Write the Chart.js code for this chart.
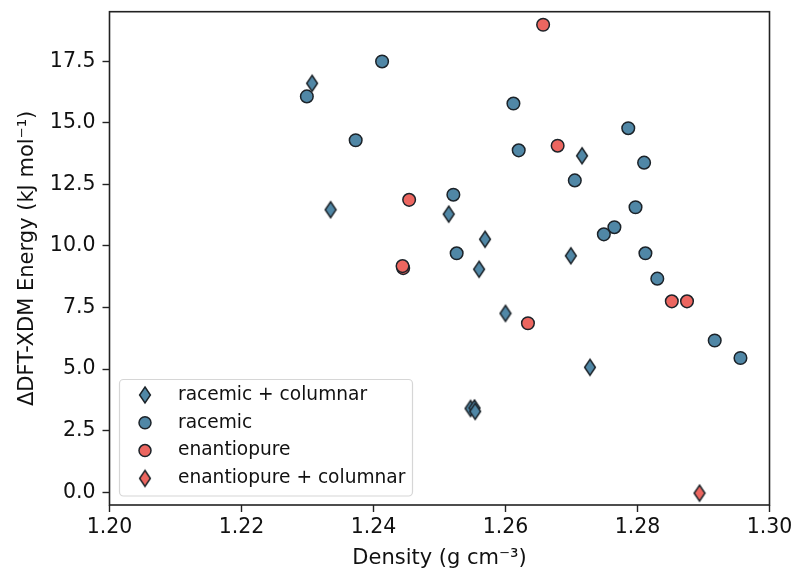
<!DOCTYPE html>
<html><head><meta charset="utf-8">
<script src="https://cdn.jsdelivr.net/npm/chart.js@4"></script>
<style>html,body{margin:0;padding:0;background:#fff}#wrap{width:795px;height:572px}</style>
</head><body><div id="wrap"><canvas id="c" width="795" height="572"></canvas></div>
<script>
const seriesNames = ["racemic + columnar", "racemic", "enantiopure", "enantiopure + columnar"];
const racColX = [1.2307, 1.2335, 1.2514, 1.2716, 1.2569, 1.2699, 1.2560, 1.2600, 1.2728, 1.2547, 1.2553, 1.2554];
const racColY = [16.6, 11.47, 11.29, 13.66, 10.27, 9.60, 9.05, 7.26, 5.07, 3.40, 3.42, 3.28];
const racX = [1.2299, 1.2413, 1.2373, 1.2612, 1.2786, 1.2620, 1.2810, 1.2705, 1.2521, 1.2797, 1.2765, 1.2749, 1.2526, 1.2812, 1.2830, 1.2917, 1.2956];
const racY = [16.07, 17.49, 14.29, 15.78, 14.78, 13.88, 13.38, 12.66, 12.08, 11.57, 10.76, 10.47, 9.70, 9.70, 8.67, 6.16, 5.45];
const enX = [1.2454, 1.2657, 1.2679, 1.2445, 1.2444, 1.2634, 1.2852, 1.2875];
const enY = [11.87, 18.98, 14.07, 9.10, 9.18, 6.86, 7.75, 7.75];
const enColX = [1.2894];
const enColY = [-0.04];
const xTicks = [1.20, 1.22, 1.24, 1.26, 1.28, 1.30];
const yTicks = [0.0, 2.5, 5.0, 7.5, 10.0, 12.5, 15.0, 17.5];

const BLUE = '#5087a6', RED = '#ec6660', EDGE = '#1c2329';
function diamond(fill){
  const c = document.createElement('canvas'); c.width = 14; c.height = 20;
  const g = c.getContext('2d');
  g.beginPath(); g.moveTo(7,2); g.lineTo(12.4,10); g.lineTo(7,18); g.lineTo(1.6,10); g.closePath();
  g.fillStyle = fill; g.fill(); g.lineWidth = 1.5; g.strokeStyle = EDGE; g.stroke();
  return c;
}
const dBlue = diamond(BLUE), dRed = diamond(RED);
const pts = (xs, ys) => xs.map((x,i)=>({x:x, y:ys[i]}));
const FONT = "'DejaVu Sans', sans-serif";

const styles = [
  {ps: dBlue, fill: BLUE},
  {ps: 'circle', fill: BLUE},
  {ps: 'circle', fill: RED},
  {ps: dRed, fill: RED}
];
const datasets = [pts(racColX, racColY), pts(racX, racY), pts(enX, enY), pts(enColX, enColY)].map((d,i)=>({
  label: seriesNames[i], data: d, pointStyle: styles[i].ps, backgroundColor: styles[i].fill,
  borderColor: EDGE, borderWidth: 1.5, pointRadius: 6.3, pointHoverRadius: 6.3, order: 3 - i
}));

const frame = {
  id: 'frame',
  afterDraw(chart){
    const {ctx, chartArea: a} = chart;
    ctx.save(); ctx.strokeStyle = '#222'; ctx.lineWidth = 1.6;
    ctx.strokeRect(a.left, a.top, a.right - a.left, a.bottom - a.top);
    // legend
    const lx = 119.5, ly = 379.5, lw = 293, lh = 116.5;
    ctx.fillStyle = 'rgba(255,255,255,0.8)'; ctx.strokeStyle = '#d6d6d6'; ctx.lineWidth = 1.2;
    ctx.beginPath(); ctx.roundRect(lx, ly, lw, lh, 4); ctx.fill(); ctx.stroke();
    ctx.font = "18.6px " + FONT; ctx.fillStyle = '#111'; ctx.textBaseline = 'middle'; ctx.textAlign = 'left';
    seriesNames.forEach((n, i) => {
      const y = 395 + i * 27.8;
      const s = styles[i];
      if (s.ps === 'circle') {
        ctx.beginPath(); ctx.arc(145, y, 6, 0, Math.PI*2);
        ctx.fillStyle = s.fill; ctx.fill(); ctx.lineWidth = 1.5; ctx.strokeStyle = EDGE; ctx.stroke();
      } else {
        ctx.drawImage(s.ps, 145 - 7, y - 10);
      }
      ctx.fillStyle = '#111';
      ctx.fillText(n, 178, y);
    });
    ctx.restore();
  }
};

new Chart(document.getElementById('c'), {
  type: 'scatter',
  data: { datasets },
  options: {
    responsive: false, animation: false, devicePixelRatio: 1,
    layout: { padding: { left: 0, right: 25.5, top: 11.7, bottom: 0 } },
    plugins: { legend: { display: false }, tooltip: { enabled: false } },
    scales: {
      x: {
        type: 'linear', min: 1.20, max: 1.30,
        afterBuildTicks: s => { s.ticks = xTicks.map(v => ({value: v})); },
        afterFit: s => { s.height = 67; s.paddingLeft = 0; s.paddingRight = 0; },
        grid: { drawOnChartArea: false, drawTicks: true, tickLength: 7, color: '#222', tickWidth: 1.4 },
        border: { display: false },
        ticks: { color: '#111', font: { family: FONT, size: 20.5 }, padding: 3, maxRotation: 0, callback: v => v.toFixed(2) },
        title: { display: true, text: 'Density (g cm⁻³)', color: '#111', font: { family: FONT, size: 21 }, padding: { top: 0, bottom: 1 } }
      },
      y: {
        type: 'linear', min: -0.52, max: 19.51,
        afterBuildTicks: s => { s.ticks = yTicks.map(v => ({value: v})); },
        afterFit: s => { s.width = 109.5; s.paddingTop = 0; s.paddingBottom = 0; },
        grid: { drawOnChartArea: false, drawTicks: true, tickLength: 7, color: '#222', tickWidth: 1.4 },
        border: { display: false },
        ticks: { color: '#111', font: { family: FONT, size: 20.5 }, padding: 7, callback: v => v.toFixed(1) },
        title: { display: true, text: 'ΔDFT-XDM Energy (kJ mol⁻¹)', color: '#111', font: { family: FONT, size: 21 }, padding: { top: 15, bottom: 0 } }
      }
    }
  },
  plugins: [frame]
});
</script></body></html>
